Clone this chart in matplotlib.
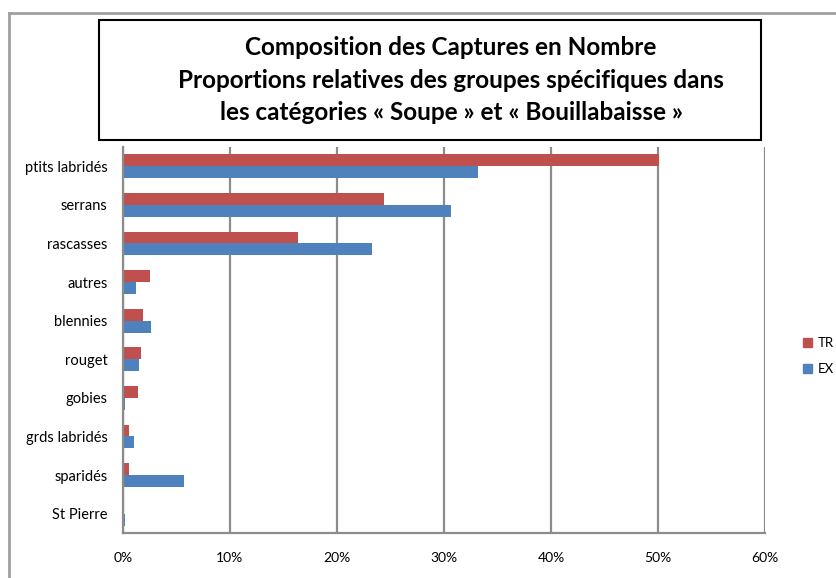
import matplotlib.pyplot as plt
import numpy as np
from matplotlib.lines import Line2D
from matplotlib.patches import Rectangle, Patch

categories = ["ptits labridés", "serrans", "rascasses", "autres", "blennies",
              "rouget", "gobies", "grds labridés", "sparidés", "St Pierre"]
tr = [50.1, 24.4, 16.4, 2.5, 1.9, 1.7, 1.4, 0.6, 0.6, 0.05]
ex = [33.2, 30.7, 23.3, 1.2, 2.6, 1.5, 0.2, 1.0, 5.7, 0.2]
xticks = [0, 10, 20, 30, 40, 50, 60]

plt.rcParams['font.family'] = ['Lato', 'DejaVu Sans']

fig = plt.figure(figsize=(8.36, 5.78), dpi=100)
ax = fig.add_axes([0.1471, 0.0779, 0.768, 0.6678])

n = len(categories)
pos = np.arange(n)[::-1]
h = 0.31
ax.barh(pos + h / 2, tr, height=h, color="#C0504D", label="TR")
ax.barh(pos - h / 2, ex, height=h, color="#4F81BD", label="EX")

ax.set_ylim(-0.5, n - 0.5)
ax.set_xlim(0, 60)
ax.set_yticks(pos)
ax.set_yticklabels(categories, fontsize=10.5)
ax.set_xticks(xticks)
ax.set_xticklabels([f"{t}%" for t in xticks], fontsize=10)
ax.tick_params(axis="y", length=0, pad=11)
ax.tick_params(axis="x", length=0, pad=14)
ax.grid(axis="x", color="#8C8C8C", linewidth=1.6)
ax.set_axisbelow(True)
for s in ["top", "right"]:
    ax.spines[s].set_visible(False)
for s in ["left", "bottom"]:
    ax.spines[s].set_color("#8C8C8C")
    ax.spines[s].set_linewidth(1.6)

# outer chart border
W, H = 836, 578
fig.add_artist(Line2D([9 / W, 1], [1 - 13 / H, 1 - 13 / H], color="#A0A0A0", lw=2))
fig.add_artist(Line2D([9 / W, 9 / W], [0, 1 - 13 / H], color="#A0A0A0", lw=2))

# title box
fig.add_artist(Rectangle((99 / W, 1 - 140 / H), (761 - 99) / W, (140 - 20) / H,
                         transform=fig.transFigure, fill=False, ec="black", lw=1.5))
fig.text(451 / W, 1 - 80 / H,
         "Composition des Captures en Nombre\n"
         "Proportions relatives des groupes spécifiques dans\n"
         "les catégories « Soupe » et « Bouillabaisse »",
         ha="center", va="center", fontsize=17.5, fontweight="bold", linespacing=1.5)

handles = [Patch(color="#C0504D", label="TR"), Patch(color="#4F81BD", label="EX")]
fig.legend(handles=handles, loc="center left", bbox_to_anchor=(803 / W, 1 - 356 / H),
           frameon=False, fontsize=9.5, handlelength=0.7, handleheight=0.7,
           labelspacing=1.1, handletextpad=0.4, borderpad=0, borderaxespad=0)

fig.savefig("out.png", dpi=100)
